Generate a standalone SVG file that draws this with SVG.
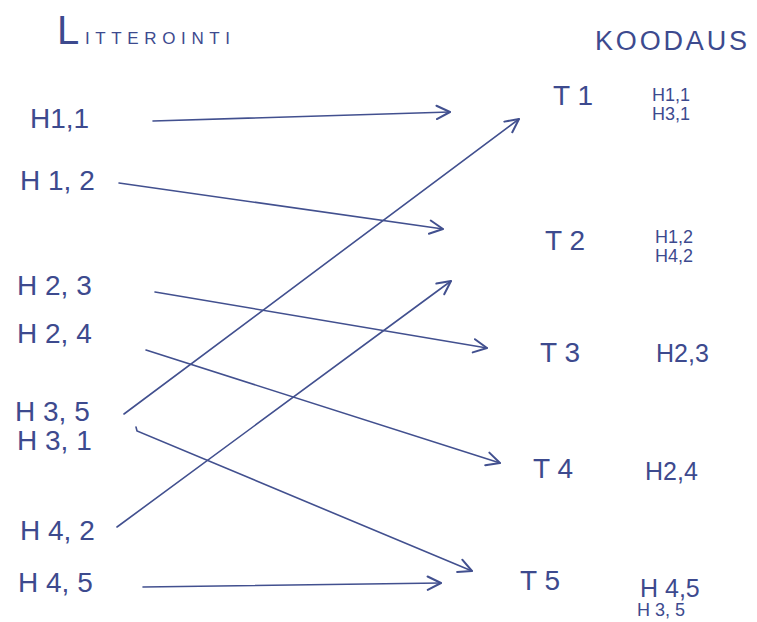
<svg xmlns="http://www.w3.org/2000/svg" width="757" height="622" viewBox="0 0 757 622">
  <style>
    text { font-family: "Liberation Sans", "DejaVu Sans", sans-serif; fill: #3d4a8e; }
    .lbl { font-size: 28px; }
    .t { font-size: 28px; }
    .code { font-size: 18px; }
    .code2 { font-size: 25px; }
    .conn { stroke: #42508f; stroke-width: 1.6; fill: none; stroke-linecap: round; marker-end: url(#arr); }
  </style>
  <defs>
    <marker id="arr" viewBox="0 0 12 12" refX="11" refY="6" markerWidth="16" markerHeight="16" markerUnits="userSpaceOnUse" orient="auto">
      <path d="M1,1 L11,6 L1,11" fill="none" stroke="#42508f" stroke-width="1.5" stroke-linecap="round" stroke-linejoin="round"/>
    </marker>
  </defs>
  <rect width="757" height="622" fill="#ffffff"/>

  <g id="header-litterointi"><text x="57" y="44"><tspan font-size="40">L</tspan><tspan font-size="17" x="85" textLength="145" lengthAdjust="spacing">ITTEROINTI</tspan></text></g>
  <g id="header-koodaus"><text x="595" y="50" font-size="27" textLength="152" lengthAdjust="spacing">KOODAUS</text></g>

  <g id="H11"><text class="lbl" x="30" y="128">H1,1</text></g>
  <g id="H12"><text class="lbl" x="20" y="190">H 1, 2</text></g>
  <g id="H23"><text class="lbl" x="17" y="295">H 2, 3</text></g>
  <g id="H24"><text class="lbl" x="17" y="343">H 2, 4</text></g>
  <g id="H35"><text class="lbl" x="15" y="421">H 3, 5</text></g>
  <g id="H31"><text class="lbl" x="17" y="450">H 3, 1</text></g>
  <g id="H42"><text class="lbl" x="20" y="540">H 4, 2</text></g>
  <g id="H45"><text class="lbl" x="18" y="592">H  4, 5</text></g>

  <g id="T1"><text class="t" x="553" y="105">T 1</text><text class="code" x="652" y="101">H1,1</text><text class="code" x="652" y="120">H3,1</text></g>
  <g id="T2"><text class="t" x="545" y="250">T 2</text><text class="code" x="655" y="243">H1,2</text><text class="code" x="655" y="262">H4,2</text></g>
  <g id="T3"><text class="t" x="540" y="362">T 3</text><text class="code2" x="656" y="362">H2,3</text></g>
  <g id="T4"><text class="t" x="533" y="478">T 4</text><text class="code2" x="645" y="480">H2,4</text></g>
  <g id="T5"><text class="t" x="520" y="590">T 5</text><text class="code2" x="640" y="597">H 4,5</text><text class="code" x="637" y="616">H 3, 5</text></g>

  <g id="connectors">
    <path class="conn" d="M153,121 L450,112"/>
    <path class="conn" d="M119,183 L443,229"/>
    <path class="conn" d="M155,292 L487,348"/>
    <path class="conn" d="M146,350 L500,463"/>
    <path class="conn" d="M124,414 L519,119"/>
    <path class="conn" d="M136,427 L137,431 L472,571"/>
    <path class="conn" d="M117,527 L451,281"/>
    <path class="conn" d="M143,587 L441,583"/>
  </g>
</svg>
